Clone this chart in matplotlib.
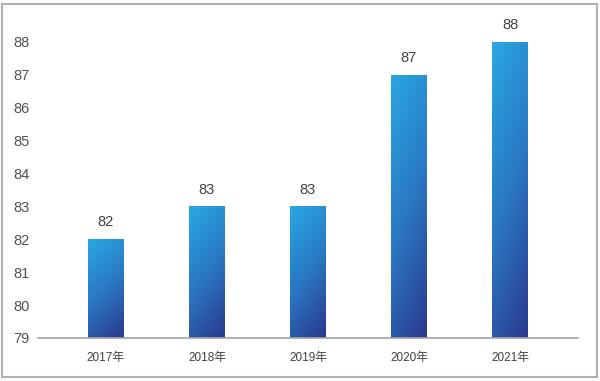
import numpy as np
import matplotlib.pyplot as plt
from matplotlib.colors import LinearSegmentedColormap
from matplotlib.patches import Rectangle

plt.rcParams['font.family'] = ['Liberation Sans', 'Noto Sans CJK SC', 'DejaVu Sans']

years = ["2017年", "2018年", "2019年", "2020年", "2021年"]
values = [82, 83, 83, 87, 88]
y_ticks = [79, 80, 81, 82, 83, 84, 85, 86, 87, 88]

fig = plt.figure(figsize=(6, 3.81), dpi=100)
ax = fig.add_axes([0.0633, 0.1129, 0.9, 0.8635])

base = 79
width = 0.356
cmap = LinearSegmentedColormap.from_list("bluegrad", ["#29a8e2", "#2a78c2", "#2b3990"])

# gradient: light at top-left, dark at bottom-right
gy, gx = np.mgrid[0:1:100j, 0:1:30j]
grad = 0.75 * gy + 0.25 * gx

for i, v in enumerate(values):
    x0 = i - width / 2
    bar = ax.bar(i, v - base, width, bottom=base, color="none", edgecolor="none")[0]
    im = ax.imshow(grad, cmap=cmap, extent=[x0, x0 + width, base, v],
                   origin="upper", aspect="auto", zorder=2)
    im.set_clip_path(bar)
    ax.text(i, v + 0.3, str(v), ha="center", va="bottom", fontsize=10.5, color="#404040")

ax.set_xlim(-0.673, 4.673)
ax.set_ylim(79, 89)
ax.set_xticks(range(len(years)))
ax.set_xticklabels(years, fontsize=8.5, color="#404040")
ax.set_yticks(y_ticks)
ax.set_yticklabels([str(t) for t in y_ticks], fontsize=10.5, color="#505050")
ax.tick_params(axis="both", length=0)
ax.tick_params(axis="y", pad=6)
ax.tick_params(axis="x", pad=10)

for s in ["top", "right", "left"]:
    ax.spines[s].set_visible(False)
ax.spines["bottom"].set_color("#a6a6a6")
ax.spines["bottom"].set_linewidth(1.2)

# outer frame
fig.patches.append(Rectangle((2 / 600, 4 / 381), 595 / 600, 373 / 381,
                             transform=fig.transFigure, fill=False,
                             edgecolor="#b0b0b0", linewidth=1.5))

fig.savefig("out.png", dpi=100)
